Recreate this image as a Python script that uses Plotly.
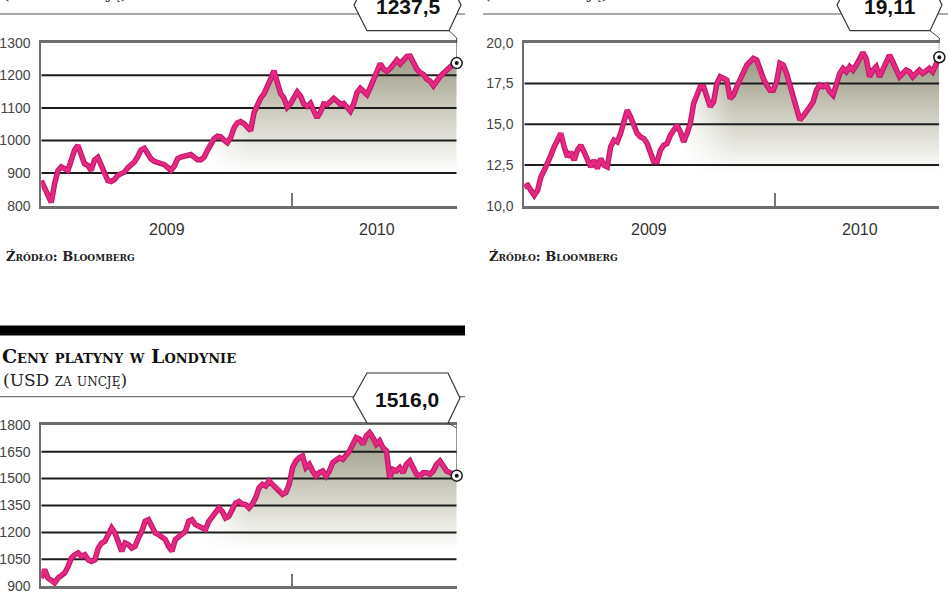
import pandas as pd
import plotly.graph_objects as go

W, H = 948, 593

# ---------------- data ----------------
START_DATE = "2009-01-01"
END_DATE = "2010-08-29"
YEAR_BREAK = "2010-01-01"
YEAR_LABELS = ["2009", "2010"]

gold = [877, 856, 836, 810, 867, 908, 919, 913, 908, 939, 970, 985, 960, 929, 924, 908, 940, 948, 925, 895,
        877, 874, 880, 893, 900, 903, 916, 926, 934, 950, 971, 976, 960, 944, 936, 934, 932, 926, 918, 908,
        921, 944, 949, 951, 957, 957, 949, 941, 941, 949, 970, 993, 1006, 1013, 1011, 1001, 993, 1009, 1039, 1054,
        1058, 1052, 1040, 1030, 1085, 1108, 1130,
        1143, 1163, 1188, 1214, 1180, 1144, 1131, 1102, 1113, 1133, 1149, 1137, 1112, 1105, 1114, 1091, 1070, 1087,
        1112, 1110, 1119, 1129, 1121, 1111, 1114, 1100, 1090, 1112, 1147, 1160, 1151, 1141, 1163, 1190, 1215, 1236,
        1219, 1212, 1221, 1232, 1247, 1235, 1247, 1258, 1259, 1236, 1219, 1208, 1203, 1188, 1182, 1168, 1184, 1196,
        1206, 1216, 1227, 1235, 1237.5]

silver = [11.15, 11.25, 10.94, 10.64, 10.94, 11.76, 12.17, 12.58, 13.09, 13.61, 14.12, 14.43, 13.61, 12.99, 13.30,
          12.79, 13.40, 13.71, 13.30, 12.79, 12.38, 12.79, 12.28, 12.89, 12.48, 12.38, 13.61, 14.02, 13.91, 14.43,
          15.04, 15.86, 15.45, 14.84, 14.43, 14.22, 14.12, 13.81, 13.30, 12.70, 12.70, 13.40, 13.71, 13.81, 14.32,
          14.63, 14.94, 14.53, 13.91, 14.43, 15.04, 16.27, 16.89, 17.30, 17.30, 16.78, 16.07, 16.37, 17.50, 17.91,
          17.81, 17.71, 16.58, 16.78,
          17.30, 17.71, 18.12, 18.63, 18.83, 19.04, 18.94, 18.22, 17.81, 17.40, 17.09, 17.09, 17.60, 18.73, 18.63,
          18.12, 17.40, 16.58, 16.07, 15.25, 15.50, 15.86, 16.07, 16.37, 17.09, 17.40, 17.30, 17.40, 16.99, 16.78,
          17.50, 18.12, 18.42, 18.22, 18.53, 18.32, 18.63, 18.94, 19.40, 19.00, 17.91, 18.32, 18.53, 17.91, 18.42,
          18.83, 19.24, 18.83, 18.42, 17.91, 18.12, 18.32, 18.22, 17.91, 18.12, 18.32, 18.12, 18.32, 18.42, 18.22,
          18.73, 19.11]

platinum = [946, 993, 946, 928, 919, 946, 965, 974, 1011, 1058, 1076, 1086, 1067, 1076, 1048, 1039, 1048, 1113,
            1141, 1151, 1188, 1225, 1197, 1151, 1095, 1141, 1132, 1113, 1123, 1169, 1206, 1262, 1271, 1234, 1197,
            1188, 1178, 1160, 1123, 1095, 1160, 1178, 1188, 1206, 1262, 1271, 1243, 1234, 1225, 1216, 1262, 1290,
            1308, 1336, 1317, 1280, 1290, 1336, 1364, 1373, 1358, 1355, 1336, 1358,
            1394, 1449, 1468, 1459, 1487, 1468, 1449, 1440, 1412, 1422, 1468, 1561, 1598, 1616, 1626, 1561, 1579,
            1542, 1514, 1533, 1542, 1514, 1542, 1589, 1607, 1616, 1607, 1626, 1654, 1691, 1728, 1719, 1691, 1737,
            1756, 1728, 1691, 1710, 1672, 1654, 1505, 1551, 1542, 1561, 1533, 1579, 1598, 1561, 1524, 1514, 1533,
            1533, 1524, 1542, 1579, 1598, 1570, 1542, 1533, 1524, 1516]

gold_ticks = [800, 900, 1000, 1100, 1200, 1300]
silver_ticks = [10.0, 12.5, 15.0, 17.5, 20.0]
platinum_ticks = [900, 1050, 1200, 1350, 1500, 1650, 1800]

SUBTITLE = "(USD za uncję)"
PLAT_TITLE = "Ceny platyny w Londynie"
SOURCE = "Źródło: Bloomberg"

# ---------------- helpers ----------------
t0 = pd.Timestamp(START_DATE)
SPAN = (pd.Timestamp(END_DATE) - t0).days
BREAK = (pd.Timestamp(YEAR_BREAK) - t0).days


def days(n):
    d = pd.date_range(START_DATE, END_DATE, periods=n)
    return [(x - t0).total_seconds() / 86400 for x in d]


def fx(p):
    return p / W


def fy(p):
    return 1 - p / H


def fmt(v, dec):
    return f"{v:.{dec}f}".replace(".", ",")


def hexpath(xl, xi0, xi1, xr, yt, ym, yb):
    pts = [(xl, ym), (xi0, yt), (xi1, yt), (xr, ym), (xi1, yb), (xi0, yb)]
    return "M " + " L ".join(f"{fx(a):.5f},{fy(b):.5f}" for a, b in pts) + " Z"


LINE_DARK = "#c2186a"
LINE = "#e62883"
GRID = "#1c1c1c"
AXIS = "#6e6e6e"
SANS = "Liberation Sans, Arial, sans-serif"
SERIF = "DejaVu Serif, serif"

panels = [
    dict(vals=gold, ticks=gold_ticks, dec=0, dec_val=1, yr=[800, 1300],
         xd=[41.3, 456.7], yd=[205.7, 42.7], g=[900, 1250],
         hexa=(354, 367, 449, 461, -20, 5, 30.7), sep=(0, 465, 14), conn=(449, 30.7, 456.7, 38, 42.7),
         years=True, src=(4, 257), sub=(1, -7)),
    dict(vals=silver, ticks=silver_ticks, dec=1, dec_val=2, yr=[10, 20],
         xd=[524.3, 939.3], yd=[205.7, 42.7], g=[12, 18.6],
         hexa=(837, 850, 930, 942, -20, 5, 30.7), sep=(483, 948, 14), conn=(930, 30.7, 939.3, 38, 42.7),
         years=True, src=(487, 257), sub=(482, -7)),
    dict(vals=platinum, ticks=platinum_ticks, dec=0, dec_val=1, yr=[900, 1800],
         xd=[41.3, 456.7], yd=[586.3, 424.7], g=[1100, 1720],
         hexa=(353, 367, 448, 460, 373, 398, 423), sep=(0, 465, 396.7), conn=(448, 423, 456.7, 428, 428),
         years=False, src=None, sub=(1, 380)),
]

fig = go.Figure()
shapes = []
annotations = []
layout_axes = {}

for i, p in enumerate(panels, start=1):
    xa = "x" if i == 1 else f"x{i}"
    ya = "y" if i == 1 else f"y{i}"
    xs = days(len(p["vals"]))
    ys = p["vals"]

    # gradient fill under the line
    fig.add_trace(go.Scatter(
        x=xs, y=ys, xaxis=xa, yaxis=ya, mode="lines", line=dict(width=0),
        fill="tozeroy",
        fillgradient=dict(type="vertical", start=p["g"][0], stop=p["g"][1],
                          colorscale=[[0, "rgb(255,255,255)"], [0.45, "rgb(214,213,202)"],
                                      [1, "rgb(160,159,139)"]]),
        hoverinfo="skip", showlegend=False))
    # horizontal fade (white) on the early part of the fill
    fig.add_trace(go.Scatter(
        x=xs, y=ys, xaxis=xa, yaxis=ya, mode="lines", line=dict(width=0),
        fill="tozeroy",
        fillgradient=dict(type="horizontal", start=230, stop=305,
                          colorscale=[[0, "rgba(255,255,255,1)"], [1, "rgba(255,255,255,0)"]]),
        hoverinfo="skip", showlegend=False))
    # grid lines (inner ticks)
    gx, gy = [], []
    for t in p["ticks"][1:-1]:
        gx += [0, SPAN, None]
        gy += [t, t, None]
    fig.add_trace(go.Scatter(x=gx, y=gy, xaxis=xa, yaxis=ya, mode="lines",
                             line=dict(color=GRID, width=2), hoverinfo="skip", showlegend=False))
    # price line
    fig.add_trace(go.Scatter(x=xs, y=ys, xaxis=xa, yaxis=ya, mode="lines",
                             line=dict(color=LINE_DARK, width=5.5), hoverinfo="skip", showlegend=False))
    fig.add_trace(go.Scatter(x=xs, y=ys, xaxis=xa, yaxis=ya, mode="lines",
                             line=dict(color=LINE, width=3.2), hoverinfo="skip", showlegend=False))
    # end marker
    fig.add_trace(go.Scatter(x=[xs[-1]], y=[ys[-1]], xaxis=xa, yaxis=ya, mode="markers",
                             marker=dict(symbol="circle", size=11, color="white",
                                         line=dict(color="#1a1a1a", width=1.5)),
                             cliponaxis=False, hoverinfo="skip", showlegend=False))
    fig.add_trace(go.Scatter(x=[xs[-1]], y=[ys[-1]], xaxis=xa, yaxis=ya, mode="markers",
                             marker=dict(symbol="circle", size=4, color="#111"),
                             cliponaxis=False, hoverinfo="skip", showlegend=False))

    key = "" if i == 1 else str(i)
    layout_axes[f"xaxis{key}"] = dict(
        domain=[fx(p["xd"][0]), fx(p["xd"][1])], range=[0, SPAN], anchor=ya, automargin=False,
        showgrid=False, zeroline=False, showline=True, linecolor=AXIS, linewidth=2.5,
        mirror=True, tickvals=[BREAK], ticktext=[""], ticks="inside", ticklen=13,
        tickwidth=1.5, tickcolor="#777", fixedrange=True)
    layout_axes[f"yaxis{key}"] = dict(
        domain=[fy(p["yd"][0]), fy(p["yd"][1])], range=p["yr"], anchor=xa, automargin=False,
        showgrid=False, zeroline=False, showline=True, linecolor=AXIS, linewidth=2,
        tickvals=p["ticks"], ticktext=[fmt(t, p["dec"]) for t in p["ticks"]],
        ticks="", ticklabelstandoff=6, ticklabeloverflow="allow",
        tickfont=dict(family=SANS, size=14, color="#444"), fixedrange=True)

    # connector from the value box down to the last point
    c = p["conn"]
    shapes.append(dict(type="path", xref="paper", yref="paper", layer="above",
                       path=f"M {fx(c[0])},{fy(c[1])} L {fx(c[2])},{fy(c[3])} L {fx(c[2])},{fy(c[4])}",
                       line=dict(color="#444", width=1)))
    shapes.append(dict(type="line", xref=xa, yref=ya, layer="below",
                       x0=xs[-1], x1=xs[-1], y0=p["yr"][1], y1=ys[-1],
                       line=dict(color="#444", width=1)))
    # separator rule + hexagon value box
    s = p["sep"]
    shapes.append(dict(type="line", xref="paper", yref="paper", layer="above",
                       x0=fx(s[0]), x1=fx(s[1]), y0=fy(s[2]), y1=fy(s[2]),
                       line=dict(color="#555", width=1)))
    hx = p["hexa"]
    shapes.append(dict(type="path", xref="paper", yref="paper", layer="above",
                       path=hexpath(*hx), fillcolor="white", line=dict(color="#333", width=1.2)))
    annotations.append(dict(xref="paper", yref="paper", x=fx((hx[0] + hx[3]) / 2 + 0.5),
                            y=fy(hx[5] + 1.5), text=fmt(ys[-1], p["dec_val"]),
                            showarrow=False, xanchor="center", yanchor="middle",
                            font=dict(family=SANS, size=21, color="#111", weight="bold")))
    # subtitle (partly above the picture for the upper panels, as in the original crop)
    annotations.append(dict(xref="paper", yref="paper", x=fx(p["sub"][0]), y=fy(p["sub"][1]),
                            text=SUBTITLE, showarrow=False, xanchor="left", yanchor="middle",
                            font=dict(family=SERIF, size=17, color="#222", variant="small-caps")))
    if p["years"]:
        mids = [BREAK / 2, (BREAK + SPAN) / 2 + 4]
        for lab, m in zip(YEAR_LABELS, mids):
            annotations.append(dict(xref=xa, yref="paper", x=m, y=fy(229.5), text=lab,
                                    showarrow=False, xanchor="center", yanchor="middle",
                                    font=dict(family=SANS, size=16, color="#333")))
    if p["src"]:
        annotations.append(dict(xref="paper", yref="paper", x=fx(p["src"][0]), y=fy(p["src"][1]),
                                text=SOURCE, showarrow=False, xanchor="left", yanchor="middle",
                                font=dict(family=SERIF, size=13, color="#222",
                                          weight="bold", variant="small-caps")))

# platinum title and the heavy black rule above it
annotations.append(dict(xref="paper", yref="paper", x=fx(0), y=fy(356), text=PLAT_TITLE,
                        showarrow=False, xanchor="left", yanchor="middle",
                        font=dict(family=SERIF, size=19, color="#111",
                                  weight="bold", variant="small-caps")))
shapes.append(dict(type="rect", xref="paper", yref="paper", layer="above",
                   x0=fx(0), x1=fx(465), y0=fy(335.5), y1=fy(325.5),
                   fillcolor="#000", line=dict(width=0)))

fig.update_layout(
    width=W, height=H, margin=dict(l=0, r=0, t=0, b=0, autoexpand=False),
    paper_bgcolor="white", plot_bgcolor="rgba(0,0,0,0)",
    showlegend=False, shapes=shapes, annotations=annotations, **layout_axes)

fig.write_html("out.html", config={"displayModeBar": False},
               post_script="document.body.style.margin='0';document.body.style.overflow='hidden';")
